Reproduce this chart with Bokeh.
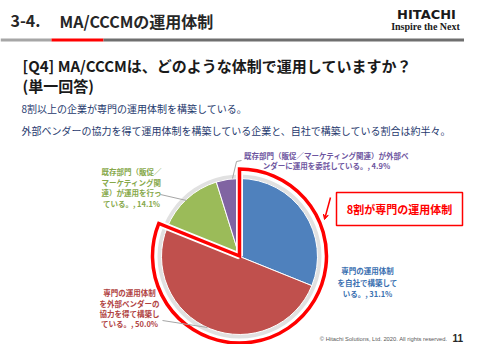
import numpy as np
from bokeh.plotting import figure
from bokeh.models import Range1d, Arrow, VeeHead, ColumnDataSource
from bokeh.core.properties import value
from bokeh.embed import file_html
from bokeh.resources import INLINE

# ---- data ----
categories = [
    "専門の運用体制を自社で構築している。",
    "専門の運用体制を外部ベンダーの協力を得て構築している。",
    "既存部門（販促／マーケティング関連）が運用を行っている。",
    "既存部門（販促／マーケティング関連）が外部ベンダーに運用を委託している。",
]
shares = [31.1, 50.0, 14.1, 4.9]
slice_colors = ["#4F81BD", "#C0504D", "#9BBB59", "#8064A2"]
highlight_count = 2  # first two slices = 専門の運用体制

title_num = "3-4."
title_text = "MA/CCCMの運用体制"
question = "[Q4] MA/CCCMは、どのような体制で運用していますか？"
question2 = "(単一回答)"
notes = ["8割以上の企業が専門の運用体制を構築している。",
         "外部ベンダーの協力を得て運用体制を構築している企業と、自社で構築している割合は約半々。"]
callout = "8割が専門の運用体制"

label_blue = ["専門の運用体制", "を自社で構築して", "いる。, 31.1%"]
label_red = ["専門の運用体制", "を外部ベンダーの", "協力を得て構築し", "ている。, 50.0%"]
label_green = ["既存部門（販促／", "マーケティング関", "連）が運用を行っ", "ている。, 14.1%"]
label_purple = ["既存部門（販促／マーケティング関連）が外部ベ", "ンダーに運用を委託している。, 4.9%"]
footer = "© Hitachi Solutions, Ltd. 2020. All rights reserved."
page_no = "11"

JP = value("Noto Sans CJK JP")

p = figure(width=464, height=344, x_range=Range1d(0, 464), y_range=Range1d(16, 360),
           output_backend="svg", toolbar_location=None, min_border=0)
p.axis.visible = False
p.grid.visible = False
p.outline_line_color = None
p.background_fill_color = "white"
p.border_fill_color = "white"

def txt(x, y, t, size, color, bold=False, align="left", font=JP):
    p.text(x=x, y=y, text=t, text_font=font, text_font_size=size,
           text_font_style="bold" if bold else "normal", text_color=color,
           text_align=align, text_baseline="middle")

# header
txt([10], [340], [title_num], "16px", "#262626", True)
txt([59], [340], [title_text], "16px", "#262626", True)
txt([426], [346], ["HITACHI"], "13px", "#1a1a1a", True, "center", value("DejaVu Sans"))
txt([425], [334.5], ["Inspire the Next"], "10px", "#1a1a1a", True, "center", value("Liberation Serif"))
p.segment(x0=[0, 51, 103], y0=[320.5] * 3, x1=[51, 103, 480], y1=[320.5] * 3,
          line_color=["#a6a6a6", "#ff0000", "#6f6f6f"], line_width=3)

txt([22], [295], [question], "15px", "#1a1a1a", True)
txt([22], [275], [question2], "15px", "#1a1a1a", True)
txt([21, 21], [252, 230], notes, "10px", "#1F3A6E")

# pie
cx, cy, r = 239, 104, 78
vals = np.array(shares) / 100.0
cum = np.concatenate([[0.0], np.cumsum(vals)])
src = ColumnDataSource(dict(start=np.pi / 2 - cum[:-1] * 2 * np.pi,
                            end=np.pi / 2 - cum[1:] * 2 * np.pi,
                            color=slice_colors, cat=categories))
p.annulus(x=cx, y=cy, inner_radius=r - 1, outer_radius=r + 4, fill_color="#d9d9d9",
          line_color=None, fill_alpha=0.8)
p.wedge(x=cx, y=cy, radius=r, start_angle="start", end_angle="end", direction="clock",
        fill_color="color", line_color="white", line_width=1, source=src)

# highlight outline
hi = cum[highlight_count]
p.wedge(x=cx, y=cy + 0.5, radius=87, start_angle=np.pi / 2, end_angle=np.pi / 2 - hi * 2 * np.pi,
        direction="clock", fill_color=None, line_color="white", line_width=7)
p.wedge(x=cx, y=cy + 0.5, radius=87, start_angle=np.pi / 2, end_angle=np.pi / 2 - hi * 2 * np.pi,
        direction="clock", fill_color=None, line_color="#ff0000", line_width=3.5, line_join="miter")

# leader lines
p.multi_line(xs=[[241, 236, 232], [160, 186], [162, 207]],
             ys=[[200, 199, 182], [166, 160], [40, 33]], line_color="#a6a6a6", line_width=1)

# labels
txt([367] * 3, [90, 78.5, 67], label_blue, "7.5px", "#3A6FB0", True, "center")
txt([129] * 4, [68, 57.5, 47, 37], label_red, "7.5px", "#B0423F", True, "center")
txt([131] * 4, [189, 178.5, 168, 157.5], label_green, "7.5px", "#86A84A", True, "center")
txt([326] * 2, [205, 195], label_purple, "7.5px", "#6E56A0", True, "center")

# callout
p.quad(left=336, right=462, top=168, bottom=135, fill_color="white", line_color="#ff0000", line_width=1.5)
txt([399], [151.5], [callout], "11px", "#ff0000", True, "center")
p.add_layout(Arrow(end=VeeHead(size=5, line_color="#ff0000", fill_color="#ff0000"),
                   x_start=330, y_start=163, x_end=324, y_end=141,
                   line_color="#ff0000", line_width=1.5))

# footer
txt([447], [22], [footer], "5.8px", "#595959", False, "right", value("Liberation Sans"))
txt([452], [22.5], [page_no], "10px", "#262626", True, "left", value("Liberation Sans"))

open("out.html", "w").write(file_html(p, INLINE))
